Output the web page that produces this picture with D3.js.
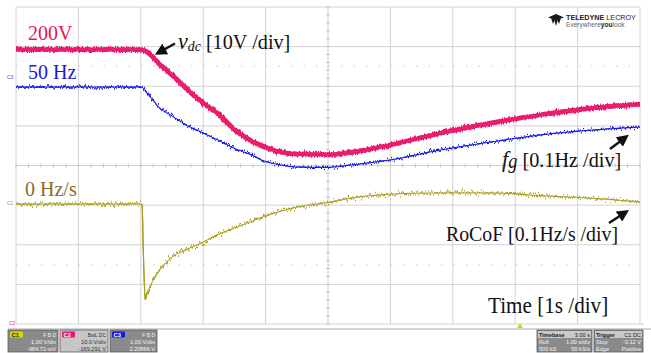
<!DOCTYPE html>
<html>
<head>
<meta charset="utf-8">
<script src="https://cdn.jsdelivr.net/npm/d3@7/dist/d3.min.js"></script>
<style>
  html, body { margin: 0; padding: 0; background: #fff; }
  svg { display: block; }
</style>
</head>
<body>
<svg id="scope" width="651" height="353"></svg>
<script>
// time axis [s], 1 s/div, 10 divisions
var timeV = [0, 1, 2.0, 2.1, 2.3, 2.5, 2.75, 3.0, 3.25, 3.5, 3.75, 4.0, 4.25, 4.5, 5.0, 5.3, 6.0, 6.8, 7.6, 8.4, 9.2, 10];
// dc-link voltage [V]
var vdc = [200, 200, 200, 199.4, 196.3, 193.6, 189.8, 186.5, 183.6, 179.8, 177.1, 175.3, 174.1, 173.6, 173.5, 173.9, 175.9, 178.9, 181.4, 183.5, 185.2, 186.2];
// grid frequency [Hz]
var fg = [50, 50, 50, 49.985, 49.947, 49.927, 49.902, 49.884, 49.865, 49.845, 49.830, 49.812, 49.803, 49.798, 49.797, 49.802, 49.816, 49.841, 49.861, 49.879, 49.891, 49.899];
// RoCoF [Hz/s]
var timeR = [0, 1, 2.0, 2.02, 2.04, 2.07, 2.1, 2.15, 2.2, 2.3, 2.5, 2.75, 3.0, 3.25, 3.5, 3.75, 4.0, 4.25, 4.5, 5.0, 5.3, 6.0, 6.8, 7.6, 8.4, 9.2, 10];
var rocof = [0, 0, 0, 0, -0.116, -0.242, -0.227, -0.207, -0.192, -0.167, -0.134, -0.114, -0.096, -0.076, -0.061, -0.045, -0.030, -0.018, -0.008, 0.004, 0.013, 0.025, 0.028, 0.028, 0.021, 0.015, 0.005];

var svg = d3.select("#scope");
var gLeft = 16, gRight = 640, gTop = 7, gBottom = 324;
var nDivX = 10, nDivY = 8;
var divPx = (gBottom - gTop) / nDivY;

var x = d3.scaleLinear().domain([0, 10]).range([gLeft, gRight]);

// one vertical scale per channel: reference value, its screen row, units per division
function chanScale(ref, refY, perDiv) {
  return d3.scaleLinear()
    .domain([ref - (gBottom - refY) / divPx * perDiv, ref + (refY - gTop) / divPx * perDiv])
    .range([gBottom, gTop]);
}
var yV = chanScale(200, 49.5, 10);
var yF = chanScale(50, 87, 0.1);
var yR = chanScale(0, 204, 0.1);

// noise filter (rendering only, moves pixels up and down)
var defs = svg.append("defs");
function noiseFilter(id, scale, seed, freq) {
  var f = defs.append("filter").attr("id", id)
    .attr("filterUnits", "userSpaceOnUse")
    .attr("x", 0).attr("y", 0).attr("width", 651).attr("height", 353);
  f.append("feTurbulence").attr("type", "fractalNoise")
    .attr("baseFrequency", freq).attr("numOctaves", 2).attr("seed", seed).attr("result", "t");
  f.append("feColorMatrix").attr("in", "t").attr("type", "matrix")
    .attr("values", "0 0 0 0 0.5  0 1 0 0 0  0 0 1 0 0  0 0 0 1 0").attr("result", "m");
  f.append("feDisplacementMap").attr("in", "SourceGraphic").attr("in2", "m")
    .attr("scale", scale).attr("xChannelSelector", "R").attr("yChannelSelector", "G");
}
noiseFilter("nzV", 5, 3, "0.9 0.05");
noiseFilter("nzF", 8, 7, "0.7 0.03");
noiseFilter("nzR", 11, 11, "0.6 0.03");

// grid
var grid = svg.append("g");
grid.selectAll("line.vx").data(d3.range(0, nDivX + 1)).enter().append("line").attr("class", "vx")
  .attr("x1", function (d) { return x(d); }).attr("x2", function (d) { return x(d); })
  .attr("y1", gTop).attr("y2", gBottom)
  .attr("stroke", "#d2d2d2").attr("stroke-width", 1);
grid.selectAll("line.hy").data(d3.range(0, nDivY + 1)).enter().append("line").attr("class", "hy")
  .attr("x1", gLeft).attr("x2", gRight)
  .attr("y1", function (d) { return gTop + d * divPx; }).attr("y2", function (d) { return gTop + d * divPx; })
  .attr("stroke", "#d2d2d2").attr("stroke-width", 1);
// dotted reference rows
[66, 265].forEach(function (yy) {
  grid.append("line").attr("x1", gLeft).attr("x2", gRight).attr("y1", yy).attr("y2", yy)
    .attr("stroke", "#c8c8c8").attr("stroke-width", 1).attr("stroke-dasharray", "1.5,11");
});
// minor ticks on centre axes
var cx = x(5), cy = gTop + 4 * divPx;
grid.selectAll("line.tx").data(d3.range(0, nDivX * 5 + 1)).enter().append("line").attr("class", "tx")
  .attr("x1", function (d) { return gLeft + d * (gRight - gLeft) / (nDivX * 5); })
  .attr("x2", function (d) { return gLeft + d * (gRight - gLeft) / (nDivX * 5); })
  .attr("y1", cy - 2).attr("y2", cy + 2).attr("stroke", "#c4c4c4");
grid.selectAll("line.ty").data(d3.range(0, nDivY * 5 + 1)).enter().append("line").attr("class", "ty")
  .attr("y1", function (d) { return gTop + d * divPx / 5; })
  .attr("y2", function (d) { return gTop + d * divPx / 5; })
  .attr("x1", cx - 2).attr("x2", cx + 2).attr("stroke", "#c4c4c4");
// separator under the grid
svg.append("line").attr("x1", 8).attr("x2", 651).attr("y1", 329).attr("y2", 329)
  .attr("stroke", "#a8a8a8").attr("stroke-width", 1.2);

// traces: a clean core line plus a noisy copy on top
var lineV = d3.line().x(function (d, i) { return x(timeV[i]); }).y(function (d) { return yV(d); }).curve(d3.curveMonotoneX);
var lineF = d3.line().x(function (d, i) { return x(timeV[i]); }).y(function (d) { return yF(d); }).curve(d3.curveMonotoneX);
var lineR = d3.line().x(function (d, i) { return x(timeR[i]); }).y(function (d) { return yR(d); }).curve(d3.curveMonotoneX);

function trace(d, color, wCore, wNoise, filt) {
  svg.append("path").attr("d", d).attr("fill", "none")
    .attr("stroke", color).attr("stroke-width", wCore);
  svg.append("path").attr("d", d).attr("fill", "none")
    .attr("stroke", color).attr("stroke-width", wNoise).attr("filter", "url(#" + filt + ")");
}
trace(lineR(rocof), "#a89e1e", 1, 1.3, "nzR");
trace(lineV(vdc), "#ea1a6c", 4, 5, "nzV");
trace(lineF(fg), "#1414e6", 1, 1.3, "nzF");

// channel labels
var serif = "'Liberation Serif', 'Times New Roman', serif";
svg.append("text").attr("x", 28).attr("y", 40).attr("font-family", serif).attr("font-size", 20)
  .attr("fill", "#e8164e").text("200V");
svg.append("text").attr("x", 28).attr("y", 79).attr("font-family", serif).attr("font-size", 20)
  .attr("fill", "#1a1ad2").text("50 Hz");
svg.append("text").attr("x", 25).attr("y", 196).attr("font-family", serif).attr("font-size", 20)
  .attr("fill", "#8a6c28").text("0 Hz/s");

// annotations
function note(xx, yy, sx) {
  return svg.append("text").attr("transform", "translate(" + xx + "," + yy + ") scale(" + sx + ",1)")
    .attr("font-family", serif).attr("font-size", 22).attr("fill", "#111");
}
var t1 = note(178, 49, 0.92);
t1.append("tspan").attr("font-style", "italic").attr("font-size", 24).text("v");
t1.append("tspan").attr("font-style", "italic").attr("font-size", 15).attr("dy", 2).text("dc");
t1.append("tspan").attr("dy", -2).text(" [10V /div]");

var t2 = note(502, 167, 0.92);
t2.append("tspan").attr("font-style", "italic").attr("font-size", 24).text("f");
t2.append("tspan").attr("font-style", "italic").attr("font-size", 20).attr("dy", 1).text("g");
t2.append("tspan").attr("dy", -1).text(" [0.1Hz /div]");

note(446, 241, 0.9).text("RoCoF [0.1Hz/s /div]");
note(488, 313, 0.92).attr("font-size", 23).text("Time [1s /div]");

// arrows
defs.append("marker").attr("id", "head").attr("viewBox", "0 0 10 10")
  .attr("refX", 7).attr("refY", 5).attr("markerWidth", 5).attr("markerHeight", 5)
  .attr("orient", "auto")
  .append("path").attr("d", "M0,0 L10,5 L0,10 Z").attr("fill", "#111");
function arrow(x1, y1, x2, y2) {
  svg.append("line").attr("x1", x1).attr("y1", y1).attr("x2", x2).attr("y2", y2)
    .attr("stroke", "#111").attr("stroke-width", 2.4).attr("marker-end", "url(#head)");
}
arrow(175, 43.5, 158, 53);
arrow(610, 149, 626, 137);
arrow(609, 223, 626, 212);

// channel markers at the left edge
var sans = "'Liberation Sans', Arial, sans-serif";
svg.append("text").attr("x", 7).attr("y", 205).attr("font-family", sans).attr("font-size", 5)
  .attr("fill", "#a89e1e").text("C1");
svg.append("text").attr("x", 7).attr("y", 79).attr("font-family", sans).attr("font-size", 5)
  .attr("fill", "#4a4af0").text("C3");
svg.append("text").attr("x", 9).attr("y", 325).attr("font-family", sans).attr("font-size", 5)
  .attr("fill", "#f0208a").text("C2");
// trigger markers
svg.append("path").attr("d", "M517,328 L520,323 L523,328 Z").attr("fill", "#d8cc20");
svg.append("text").attr("x", 641).attr("y", 328).attr("font-family", sans).attr("font-size", 7)
  .attr("fill", "#d8cc20").text("*");

// logo
var logo = svg.append("g");
logo.append("path").attr("d", "M548,17.5 L556,14 L557,20 Z").attr("fill", "#1a1a1a");
logo.append("path").attr("d", "M564,17.5 L556,14 L555,20 Z").attr("fill", "#1a1a1a");
logo.append("path").attr("d", "M553,16 L556,26 L559,16 Z").attr("fill", "#1a1a1a");
logo.append("path").attr("d", "M551,18 L553,24 L555,19 Z").attr("fill", "#1a1a1a");
logo.append("path").attr("d", "M561,18 L559,24 L557,19 Z").attr("fill", "#1a1a1a");
var lt = logo.append("text").attr("x", 566).attr("y", 19.5).attr("font-family", sans).attr("font-size", 7.2)
  .attr("fill", "#222");
lt.append("tspan").attr("font-weight", "bold").text("TELEDYNE ");
lt.append("tspan").text("LECROY");
var lt2 = logo.append("text").attr("x", 566).attr("y", 26.5).attr("font-family", sans).attr("font-size", 6.6)
  .attr("fill", "#666");
lt2.append("tspan").text("Everywhere");
lt2.append("tspan").attr("font-weight", "bold").attr("fill", "#222").text("you");
lt2.append("tspan").text("look");

// info boxes
var chanBoxes = [
  { x: 8, w: 50, tag: "C1", tagFill: "#d6d40c", tagText: "#222", head: "F B D", l1: "1.00 V/div", l2: "-984.72 mV", bg: "#8a8a8a", fg: "#f4f4f4" },
  { x: 60, w: 48, tag: "C2", tagFill: "#e8157a", tagText: "#fff", head: "BwL DC", l1: "10.0 V/div", l2: "-169.291 V", bg: "#c6c6c6", fg: "#333" },
  { x: 110, w: 47, tag: "C3", tagFill: "#1818e0", tagText: "#fff", head: "F B D", l1: "1.00 V/div", l2: "2.20869 V", bg: "#8a8a8a", fg: "#f4f4f4" }
];
chanBoxes.forEach(function (b) {
  var g = svg.append("g").attr("font-family", sans);
  g.append("rect").attr("x", b.x).attr("y", 330).attr("width", b.w).attr("height", 22)
    .attr("fill", b.bg).attr("stroke", "#5a5a5a").attr("stroke-width", 0.8);
  g.append("rect").attr("x", b.x + 2).attr("y", 331.5).attr("width", 13).attr("height", 6)
    .attr("rx", 1).attr("fill", b.tagFill);
  g.append("text").attr("x", b.x + 3.5).attr("y", 336.8).attr("font-size", 5.8).attr("font-weight", "bold")
    .attr("fill", b.tagText).text(b.tag);
  g.append("text").attr("x", b.x + b.w - 2).attr("y", 336.8).attr("font-size", 5).attr("text-anchor", "end")
    .attr("fill", b.fg).text(b.head);
  g.append("text").attr("x", b.x + b.w - 2).attr("y", 344).attr("font-size", 5.6).attr("text-anchor", "end")
    .attr("fill", b.fg).text(b.l1);
  g.append("text").attr("x", b.x + b.w - 2).attr("y", 350.5).attr("font-size", 5.6).attr("text-anchor", "end")
    .attr("fill", b.fg).text(b.l2);
});

var infoBoxes = [
  { x: 537, w: 55, rows: [["Timebase", "3.00 s"], ["Roll", "1.00 s/div"], ["500 kS", "50 kS/s"]] },
  { x: 594, w: 49, rows: [["Trigger", "C1 DC"], ["Stop", "-3.12 V"], ["Edge", "Positive"]] }
];
infoBoxes.forEach(function (b) {
  var g = svg.append("g").attr("font-family", sans);
  g.append("rect").attr("x", b.x).attr("y", 330).attr("width", b.w).attr("height", 22)
    .attr("fill", "#8a8a8a").attr("stroke", "#5a5a5a").attr("stroke-width", 0.8);
  g.append("rect").attr("x", b.x + 1).attr("y", 331).attr("width", b.w - 2).attr("height", 7)
    .attr("fill", "#c9c9c9");
  b.rows.forEach(function (r, i) {
    var yy = 337 + i * 6.8;
    var col = i === 0 ? "#222" : "#f4f4f4";
    g.append("text").attr("x", b.x + 2).attr("y", yy).attr("font-size", 5.6)
      .attr("font-weight", i === 0 ? "bold" : "normal").attr("fill", col).text(r[0]);
    g.append("text").attr("x", b.x + b.w - 2).attr("y", yy).attr("font-size", 5.6)
      .attr("text-anchor", "end").attr("fill", col).text(r[1]);
  });
});
</script>
</body>
</html>
